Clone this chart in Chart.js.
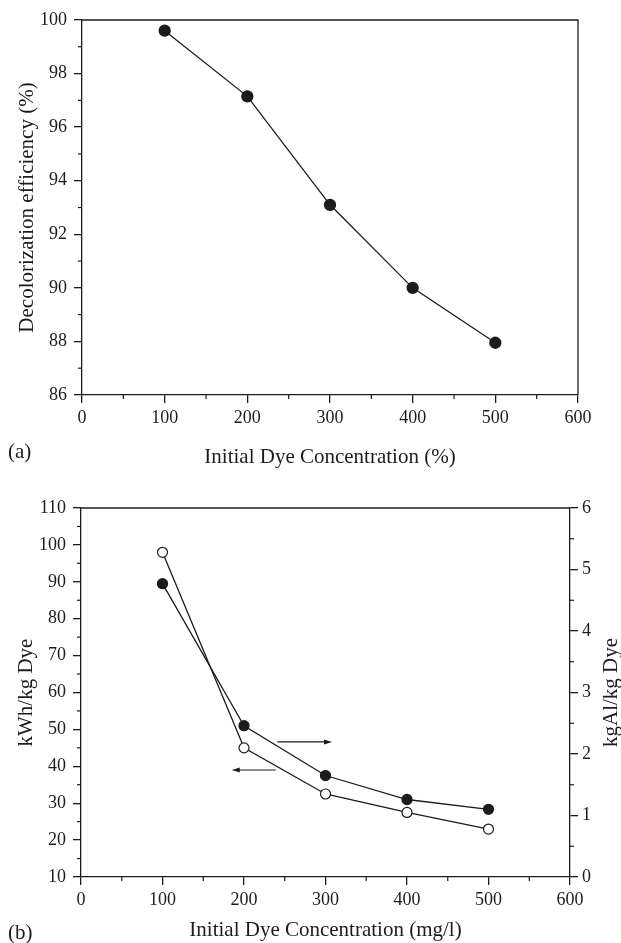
<!DOCTYPE html>
<html>
<head>
<meta charset="utf-8">
<script src="https://cdn.jsdelivr.net/npm/chart.js@4.4.0/dist/chart.umd.min.js"></script>
<style>
  html, body { margin: 0; padding: 0; background: #fff; overflow: hidden; }
  canvas { display: block; }
</style>
</head>
<body>
<canvas id="chartA" width="621" height="470"></canvas>
<canvas id="chartB" width="621" height="473"></canvas>
<script>
// (a) decolorization efficiency vs initial dye concentration
const concA = [100, 200, 300, 400, 500];
const efficiency = [99.6, 97.15, 93.1, 90.0, 87.95];

// (b) energy (left axis) and aluminium (right axis) consumption
const concB = [100, 200, 300, 400, 500];
const kwhPerKg = [98, 45, 32.5, 27.5, 23];
const kgAlPerKg = [4.77, 2.46, 1.65, 1.26, 1.10];

// arrows in (b), given in x / left-axis units: [from, to]
const arrowToRight = [[241, 46.6], [308, 46.6]];
const arrowToLeft = [[239, 39.0], [185, 39.0]];

const ink = '#1c1c1c';
const serif = "'Liberation Serif', 'Times New Roman', serif";
Chart.defaults.font.family = serif;
Chart.defaults.color = ink;
Chart.defaults.animation = false;

const tickFont = {family: serif, size: 18};
const titleFont = {family: serif, size: 21};

const toXY = (xs, ys) => xs.map((x, i) => ({x: x, y: ys[i]}));

// frame line, minor ticks, arrows, panel letter, right-hand title
const extras = {
  id: 'extras',
  afterDraw(chart, args, o) {
    const ctx = chart.ctx, a = chart.chartArea;
    ctx.save();
    ctx.strokeStyle = ink;
    ctx.fillStyle = ink;
    ctx.lineWidth = 1.3;
    ctx.beginPath();
    ctx.moveTo(a.left, a.top);
    ctx.lineTo(a.right, a.top);
    if (o.closeRight) ctx.lineTo(a.right, a.bottom);
    ctx.stroke();

    ctx.lineWidth = 1.2;
    for (const id in o.minor) {
      const s = chart.scales[id], step = o.minor[id];
      for (let v = s.min + step; v < s.max; v += 2 * step) {
        const p = s.getPixelForValue(v);
        ctx.beginPath();
        if (s.axis === 'x') { ctx.moveTo(p, s.top); ctx.lineTo(p, s.top + 4); }
        else if (s.position === 'left') { ctx.moveTo(s.right, p); ctx.lineTo(s.right - 4, p); }
        else { ctx.moveTo(s.left, p); ctx.lineTo(s.left + 4, p); }
        ctx.stroke();
      }
    }

    (o.arrows || []).forEach(([from, to]) => {
      const x = chart.scales.x, y = chart.scales.y;
      const x0 = x.getPixelForValue(from[0]), y0 = y.getPixelForValue(from[1]);
      const x1 = x.getPixelForValue(to[0]), y1 = y.getPixelForValue(to[1]);
      const dir = Math.sign(x1 - x0);
      ctx.beginPath();
      ctx.moveTo(x0, y0);
      ctx.lineTo(x1 - dir * 6, y1);
      ctx.stroke();
      ctx.beginPath();
      ctx.moveTo(x1, y1);
      ctx.lineTo(x1 - dir * 8, y1 - 2.5);
      ctx.lineTo(x1 - dir * 8, y1 + 2.5);
      ctx.closePath();
      ctx.fill();
    });

    ctx.font = '21px ' + serif;
    ctx.textBaseline = 'middle';
    ctx.textAlign = 'left';
    ctx.fillText(o.panel, 8, o.panelY);

    if (o.rightTitle) {
      ctx.translate(o.rightTitleX, (a.top + a.bottom) / 2);
      ctx.rotate(-Math.PI / 2);
      ctx.textAlign = 'center';
      ctx.fillText(o.rightTitle, 0, 0);
    }
    ctx.restore();
  }
};

const axisGrid = {drawOnChartArea: false, tickLength: 8, color: ink, lineWidth: 1.3};
const axisBorder = {color: ink, width: 1.3};

new Chart(document.getElementById('chartA'), {
  type: 'line',
  data: {
    datasets: [{
      data: toXY(concA, efficiency),
      borderColor: ink,
      borderWidth: 1.3,
      pointRadius: 5.5,
      pointBackgroundColor: ink,
      pointBorderColor: ink,
      tension: 0
    }]
  },
  options: {
    responsive: false,
    layout: {padding: {top: 20, right: 43, left: 0, bottom: 0}},
    plugins: {
      legend: {display: false},
      tooltip: {enabled: false},
      extras: {closeRight: true, minor: {x: 50, y: 1}, panel: '(a)', panelY: 452}
    },
    scales: {
      x: {
        type: 'linear', min: 0, max: 600,
        ticks: {stepSize: 100, font: tickFont, padding: 4, color: ink},
        grid: axisGrid, border: axisBorder,
        title: {display: true, text: 'Initial Dye Concentration (%)', font: titleFont, color: ink, padding: {top: 7.4, bottom: 0}},
        afterFit: s => { s.height = 75; }
      },
      y: {
        min: 86, max: 100,
        ticks: {stepSize: 2, font: tickFont, padding: 7, color: ink},
        grid: axisGrid, border: axisBorder,
        title: {display: true, text: 'Decolorization efficiency (%)', font: titleFont, color: ink, padding: {top: 14.4, bottom: 0}},
        afterFit: s => { s.width = 82; }
      }
    }
  },
  plugins: [extras]
});

new Chart(document.getElementById('chartB'), {
  type: 'line',
  data: {
    datasets: [{
      data: toXY(concB, kwhPerKg),
      yAxisID: 'y',
      borderColor: ink,
      borderWidth: 1.3,
      pointRadius: 5,
      pointBorderWidth: 1.2,
      pointBackgroundColor: '#fff',
      pointBorderColor: ink,
      tension: 0
    }, {
      data: toXY(concB, kgAlPerKg),
      yAxisID: 'y1',
      borderColor: ink,
      borderWidth: 1.3,
      pointRadius: 5,
      pointBackgroundColor: ink,
      pointBorderColor: ink,
      tension: 0
    }]
  },
  options: {
    responsive: false,
    layout: {padding: {top: 38, right: 0, left: 0, bottom: 0}},
    plugins: {
      legend: {display: false},
      tooltip: {enabled: false},
      extras: {
        closeRight: false, minor: {x: 50, y: 5, y1: 0.5},
        arrows: [arrowToRight, arrowToLeft],
        panel: '(b)', panelY: 463,
        rightTitle: 'kgAl/kg Dye', rightTitleX: 611
      }
    },
    scales: {
      x: {
        type: 'linear', min: 0, max: 600,
        ticks: {stepSize: 100, font: tickFont, padding: 4, color: ink},
        grid: axisGrid, border: axisBorder,
        title: {display: true, text: 'Initial Dye Concentration (mg/l)', font: titleFont, color: ink, padding: {top: -2.6, bottom: 0}},
        afterFit: s => { s.height = 66; }
      },
      y: {
        position: 'left', min: 10, max: 110,
        ticks: {stepSize: 10, font: tickFont, padding: 7, color: ink},
        grid: axisGrid, border: axisBorder,
        title: {display: true, text: 'kWh/kg Dye', font: titleFont, color: ink, padding: {top: 13.4, bottom: 0}},
        afterFit: s => { s.width = 81; }
      },
      y1: {
        position: 'right', min: 0, max: 6,
        ticks: {stepSize: 1, font: tickFont, padding: 4, color: ink},
        grid: axisGrid, border: axisBorder,
        afterFit: s => { s.width = 51; }
      }
    }
  },
  plugins: [extras]
});
</script>
</body>
</html>
